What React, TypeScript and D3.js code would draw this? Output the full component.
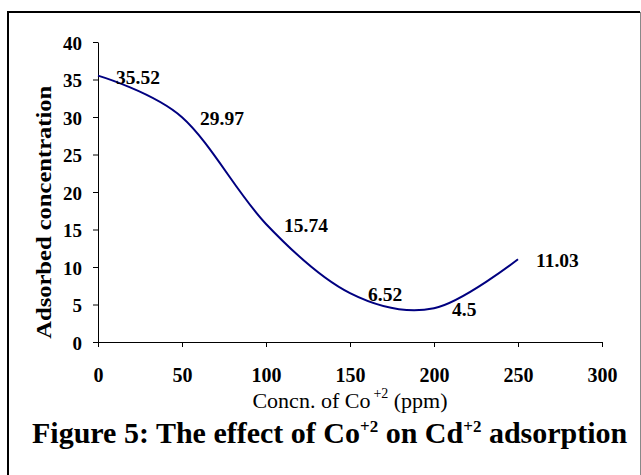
import React, {useEffect, useRef} from 'react';
import * as d3 from 'd3';

interface Point {
  conc: number;
  adsorbed: number;
}

const concentrations = [0, 50, 100, 150, 200, 250];
const adsorbedValues = [35.52, 29.97, 15.74, 6.52, 4.5, 11.03];
const xTicks = [0, 50, 100, 150, 200, 250, 300];
const yTicks = [0, 5, 10, 15, 20, 25, 30, 35, 40];

const serif = '"Liberation Serif", "Times New Roman", serif';

export default function App() {
  const el = useRef<SVGSVGElement>(null);

  useEffect(() => {
    const svg = d3.select(el.current);
    svg.selectAll('*').remove();

    const data: Point[] = concentrations.map((c, i) => ({conc: c, adsorbed: adsorbedValues[i]}));

    const xScale = d3.scaleLinear().domain([0, 300]).range([98, 602]);
    const yScale = d3.scaleLinear().domain([0, 40]).range([342, 42]);

    // outer frame
    svg.append('line').attr('x1', 8).attr('y1', 11).attr('x2', 8).attr('y2', 480)
      .attr('stroke', 'black').attr('stroke-width', 2);
    svg.append('line').attr('x1', 7).attr('y1', 12).attr('x2', 640).attr('y2', 12)
      .attr('stroke', 'black').attr('stroke-width', 2);
    svg.append('line').attr('x1', 640.5).attr('y1', 12).attr('x2', 640.5).attr('y2', 480)
      .attr('stroke', '#888').attr('stroke-width', 1);

    const xAxis = d3.axisBottom(xScale).tickValues(xTicks).tickSize(5).tickSizeOuter(0);
    const yAxis = d3.axisLeft(yScale).tickValues(yTicks).tickSize(5).tickSizeOuter(0);

    const gx = svg.append('g').attr('transform', `translate(0,${yScale(0)})`).call(xAxis);
    gx.selectAll('text')
      .attr('dy', null)
      .attr('y', 40)
      .style('font-family', serif)
      .style('font-weight', 'bold')
      .style('font-size', '20px')
      .attr('fill', 'black');

    const gy = svg.append('g').attr('transform', `translate(${xScale(0)},0)`).call(yAxis);
    gy.selectAll('text')
      .attr('dy', null)
      .attr('x', -16)
      .attr('y', 7)
      .style('font-family', serif)
      .style('font-weight', 'bold')
      .style('font-size', '19px')
      .attr('fill', 'black');
    svg.selectAll('.domain, .tick line').attr('stroke', 'black');

    const line = d3.line<Point>()
      .x(d => xScale(d.conc))
      .y(d => yScale(d.adsorbed))
      .curve(d3.curveCardinal.tension(0));
    svg.append('path')
      .datum(data)
      .attr('fill', 'none')
      .attr('stroke', '#000080')
      .attr('stroke-width', 2)
      .attr('d', line);

    svg.append('g')
      .selectAll('text')
      .data(data)
      .join('text')
      .attr('x', d => xScale(d.conc) + 18)
      .attr('y', d => yScale(d.adsorbed) + 8)
      .style('font-family', serif)
      .style('font-weight', 'bold')
      .style('font-size', '19.5px')
      .text(d => String(d.adsorbed));

    // y title
    svg.append('text')
      .attr('transform', `translate(51,${yScale(17.3)}) rotate(-90)`)
      .attr('text-anchor', 'middle')
      .attr('textLength', 253)
      .attr('lengthAdjust', 'spacingAndGlyphs')
      .style('font-family', serif)
      .style('font-weight', 'bold')
      .style('font-size', '22px')
      .text('Adsorbed concentration');

    // x title
    const xt = svg.append('text')
      .attr('x', xScale(150))
      .attr('y', 408)
      .attr('text-anchor', 'middle')
      .style('font-family', serif)
      .style('font-size', '22px');
    xt.append('tspan').text('Concn. of Co');
    xt.append('tspan').attr('dx', 3).attr('dy', -10).style('font-size', '14px').text('+2');
    xt.append('tspan').attr('dy', 10).text(' (ppm)');

    // caption
    const cap = svg.append('text')
      .attr('x', 32)
      .attr('y', 443)
      .style('font-family', serif)
      .style('font-weight', 'bold')
      .style('font-size', '30px');
    cap.append('tspan').text('Figure 5: The effect of Co');
    cap.append('tspan').attr('dy', -11).style('font-size', '17px').text('+2');
    cap.append('tspan').attr('dy', 11).text(' on Cd');
    cap.append('tspan').attr('dy', -11).style('font-size', '17px').text('+2');
    cap.append('tspan').attr('dy', 11).text(' adsorption');
  }, []);

  return (
    <svg
      ref={el}
      width={641}
      height={475}
      style={{position: 'absolute', left: 0, top: 0, background: 'white'}}
    />
  );
}
